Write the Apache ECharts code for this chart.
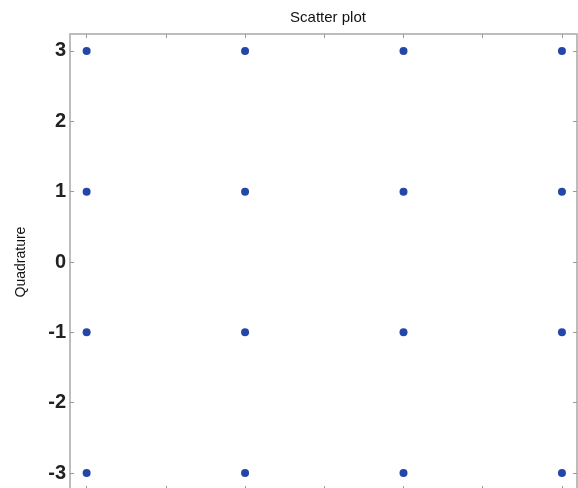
<!DOCTYPE html>
<html>
<head>
<meta charset="utf-8">
<script src="https://cdn.jsdelivr.net/npm/echarts@6/dist/echarts.min.js"></script>
<style>
  html, body { margin: 0; padding: 0; background: #fff; }
  #chart { width: 578px; height: 488px; }
</style>
</head>
<body>
<div id="chart"></div>
<script>
// 16-QAM constellation points
const inPhase = [-3, -1, 1, 3, -3, -1, 1, 3, -3, -1, 1, 3, -3, -1, 1, 3];
const quadrature = [3, 3, 3, 3, 1, 1, 1, 1, -1, -1, -1, -1, -3, -3, -3, -3];
const tickValues = [-3, -2, -1, 0, 1, 2, 3];

const points = inPhase.map((x, i) => [x, quadrature[i]]);

const chart = echarts.init(document.getElementById("chart"));

const axisLine = { show: true, onZero: false, lineStyle: { color: "#bdbdbd", width: 2 } };
const tick = { show: true, inside: true, length: 4, customValues: tickValues, lineStyle: { color: "#999", width: 1 } };

chart.setOption({
  animation: false,
  title: {
    text: "Scatter plot",
    left: 323,
    top: 5,
    textAlign: "center",
    textStyle: { fontFamily: "Liberation Sans", fontSize: 15, fontWeight: "normal", color: "#111" },
  },
  // bottom edge of the frame sits just below the visible area
  grid: { left: 70, right: 1, top: 34, height: 456, outerBoundsMode: "none" },
  xAxis: [
    {
      type: "value", min: -3.21, max: 3.19,
      axisLine: axisLine, axisTick: tick,
      axisLabel: { show: false }, splitLine: { show: false },
    },
    {
      type: "value", position: "top", min: -3.21, max: 3.19,
      axisLine: axisLine, axisTick: tick,
      axisLabel: { show: false }, splitLine: { show: false },
    },
  ],
  yAxis: [
    {
      type: "value", min: -3.24, max: 3.24,
      name: "Quadrature", nameLocation: "middle", nameGap: 42, nameRotate: 90,
      nameTextStyle: { fontFamily: "Liberation Sans", fontSize: 14, color: "#111" },
      axisLine: axisLine, axisTick: tick,
      axisLabel: {
        customValues: tickValues, margin: 4,
        fontFamily: "Liberation Sans", fontSize: 20, fontWeight: "bold", color: "#222",
      },
      splitLine: { show: false },
    },
    {
      type: "value", position: "right", min: -3.24, max: 3.24,
      axisLine: axisLine, axisTick: tick,
      axisLabel: { show: false }, splitLine: { show: false },
    },
  ],
  series: [
    {
      type: "scatter",
      data: points,
      symbolSize: 8,
      itemStyle: { color: "#2446a8", opacity: 1 },
    },
  ],
});
</script>
</body>
</html>
